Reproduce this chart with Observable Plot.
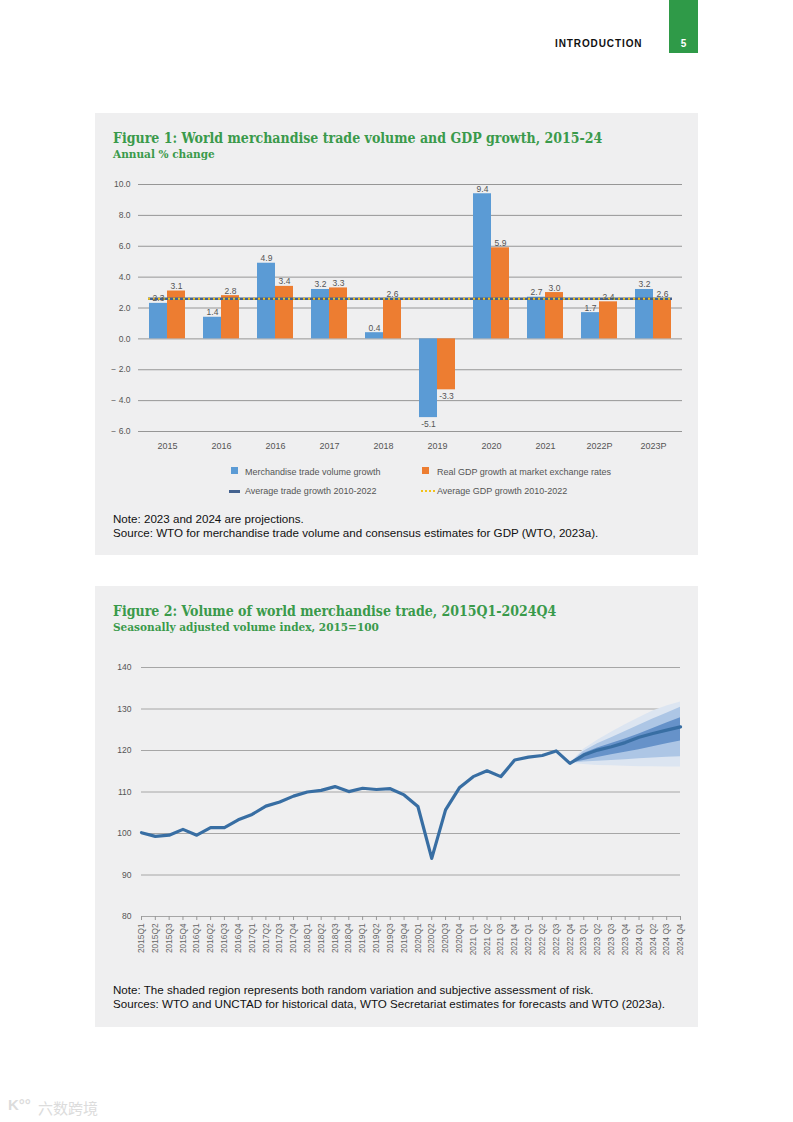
<!DOCTYPE html>
<html><head><meta charset="utf-8">
<script src="https://cdn.jsdelivr.net/npm/d3@7"></script>
<script src="https://cdn.jsdelivr.net/npm/@observablehq/plot@0.6"></script>
<style>
body{margin:0;width:793px;height:1122px;background:#fff;position:relative;font-family:"Liberation Sans",Arial,sans-serif;overflow:hidden}
.abs{position:absolute;white-space:nowrap}
.panel{position:absolute;left:95px;width:603px;background:#efeff0}
.title{font-family:"DejaVu Serif Condensed","DejaVu Serif",serif;font-weight:bold;color:#3a9a4b;font-size:14px;line-height:16px}
.sub{font-family:"DejaVu Serif Condensed","DejaVu Serif",serif;font-weight:bold;color:#3a9a4b;font-size:11.7px;line-height:12px}
.note{font-size:11.6px;line-height:14px;color:#111}
.leg{font-size:9px;color:#555;line-height:10px}
.sw{position:absolute;width:7px;height:7px}
</style></head>
<body>
<div class="abs" style="left:555px;top:38px;font-weight:bold;font-size:10px;letter-spacing:0.9px;color:#111">INTRODUCTION</div>
<div class="abs" style="left:669px;top:0;width:29px;height:53px;background:#2f9a48"></div>
<div class="abs" style="left:669px;top:38px;width:29px;text-align:center;font-weight:bold;font-size:10px;color:#fff">5</div>

<div class="panel" style="top:113px;height:442px"></div>
<div class="abs title" style="left:113px;top:130px">Figure 1: World merchandise trade volume and GDP growth, 2015-24</div>
<div class="abs sub" style="left:113px;top:148px">Annual % change</div>
<div id="c1" class="abs" style="left:95px;top:170px"></div>

<div class="sw" style="left:231px;top:467px;background:#5b9bd5"></div>
<div class="abs leg" style="left:245px;top:467px">Merchandise trade volume growth</div>
<div class="sw" style="left:422px;top:467px;background:#ed7d31"></div>
<div class="abs leg" style="left:437px;top:467px">Real GDP growth at market exchange rates</div>
<div class="abs" style="left:229px;top:490px;width:11px;height:3px;background:#44628f"></div>
<div class="abs leg" style="left:245px;top:486px">Average trade growth 2010-2022</div>
<div class="abs" style="left:421px;top:490px;width:14px;height:0;border-top:2px dotted #f2c21b"></div>
<div class="abs leg" style="left:437px;top:486px">Average GDP growth 2010-2022</div>

<div class="abs note" style="left:113px;top:512px">Note: 2023 and 2024 are projections.<br>Source: WTO for merchandise trade volume and consensus estimates for GDP (WTO, 2023a).</div>

<div class="panel" style="top:586px;height:441px"></div>
<div class="abs title" style="left:113px;top:603px">Figure 2: Volume of world merchandise trade, 2015Q1-2024Q4</div>
<div class="abs sub" style="left:113px;top:621px">Seasonally adjusted volume index, 2015=100</div>
<div id="c2" class="abs" style="left:95px;top:650px"></div>
<div class="abs note" style="left:113px;top:983px">Note: The shaded region represents both random variation and subjective assessment of risk.<br>Sources: WTO and UNCTAD for historical data, WTO Secretariat estimates for forecasts and WTO (2023a).</div>

<div class="abs" style="left:8px;top:1096px;font-size:15px;color:#dcdcdc;font-weight:bold">K°°</div>
<div class="abs" style="left:38px;top:1097px;font-size:15px;color:#dcdcdc;font-family:'Noto Sans CJK SC'">六数跨境</div>

<script>
// ---------- Figure 1 data ----------
const years = ["2015","2016","2016","2017","2018","2019","2020","2021","2022P","2023P"];
const tradeGrowth = [2.3,1.4,4.9,3.2,0.4,-5.1,9.4,2.7,1.7,3.2];
const gdpGrowth = [3.1,2.8,3.4,3.3,2.6,-3.3,5.9,3.0,2.4,2.6];
const avgTrade = [2.6];
const avgGdp = [2.6];
const yTicks1 = [-6,-4,-2,0,2,4,6,8,10];

// ---------- Figure 2 data ----------
const quarters = ["2015Q1","2015Q2","2015Q3","2015Q4","2016Q1","2016Q2","2016Q3","2016Q4",
"2017Q1","2017Q2","2017Q3","2017Q4","2018Q1","2018Q2","2018Q3","2018Q4",
"2019Q1","2019Q2","2019Q3","2019Q4","2020Q1","2020Q2","2020Q3","2020Q4",
"2021 Q1","2021 Q2","2021 Q3","2021 Q4","2022 Q1","2022 Q2","2022 Q3","2022 Q4",
"2023 Q1","2023 Q2","2023 Q3","2023 Q4","2024 Q1","2024 Q2","2024 Q3","2024 Q4"];
const volumeIndex = [100.2,99.3,99.6,101.0,99.6,101.4,101.4,103.3,
104.6,106.6,107.6,109.0,110.0,110.4,111.3,110.1,
110.9,110.6,110.8,109.3,106.5,94.0,105.7,111.0,
113.7,115.1,113.7,117.7,118.4,118.8,119.9,116.9,
118.9,120.1,120.9,121.9,123.2,124.1,124.9,125.7];
const fanQuarters = ["2022 Q4","2023 Q1","2023 Q2","2023 Q3","2023 Q4","2024 Q1","2024 Q2","2024 Q3","2024 Q4"];
const fanDarkLow  = [116.9,117.6,118.3,119.0,119.6,120.2,120.9,121.6,122.3];
const fanDarkHigh = [116.9,119.3,120.6,121.7,122.8,124.0,125.3,126.6,127.9];
const fanMidLow   = [116.9,117.2,117.4,117.6,117.8,118.0,118.2,118.4,118.5];
const fanMidHigh  = [116.9,119.8,121.6,123.1,124.6,126.1,127.6,129.0,130.4];
const fanLightLow = [116.9,116.6,116.4,116.3,116.2,116.1,116.1,116.0,116.0];
const fanLightHigh= [116.9,120.3,122.5,124.4,126.2,127.9,129.5,130.7,131.7];
const yTicks2 = [80,90,100,110,120,130,140];

// ---------- Chart 1 ----------
const fmt1 = d => d < 0 ? "\u2212 " + Math.abs(d).toFixed(1) : d.toFixed(1);
const idx = years.map((_, i) => i);
const bars = idx.map(i => ({i, trade: tradeGrowth[i], gdp: gdpGrowth[i]}));
const W1 = 603, mL1 = 43, mR1 = 16, pi = 0.336, po = 0.184;
const step = (W1 - mL1 - mR1) / (years.length - pi + 2 * po);
const bw = step * (1 - pi);
const lab = d => d.toFixed(1);
const txt = {fontSize: 8.5, fill: "#555"};

const c1 = Plot.plot({
  width: W1, height: 290, marginLeft: mL1, marginRight: mR1, marginTop: 14, marginBottom: 29,
  style: {background: "transparent", fontFamily: "Liberation Sans, Arial, sans-serif", fontSize: "8.5px", color: "#555"},
  x: {type: "band", domain: idx, paddingInner: pi, paddingOuter: po, label: null},
  y: {domain: [-6, 10], label: null},
  marks: [
    Plot.ruleY(yTicks1, {stroke: "#969696", strokeWidth: 1}),
    Plot.barY(bars, {x: "i", y: "trade", fill: "#5b9bd5", insetRight: bw / 2}),
    Plot.barY(bars, {x: "i", y: "gdp", fill: "#ed7d31", insetLeft: bw / 2}),
    Plot.ruleY(avgTrade, {stroke: "#44628f", strokeWidth: 2.5, insetLeft: 10, insetRight: 10}),
    Plot.ruleY(avgGdp, {stroke: "#f2c21b", strokeWidth: 2, strokeDasharray: "2,3", insetLeft: 10, insetRight: 10}),
    Plot.text(bars.filter(d => d.trade >= 0), {x: "i", y: "trade", text: d => lab(d.trade), dx: -bw / 4, dy: -2, lineAnchor: "bottom", ...txt}),
    Plot.text(bars.filter(d => d.trade < 0), {x: "i", y: "trade", text: d => lab(d.trade), dx: -bw / 4, dy: 3, lineAnchor: "top", ...txt}),
    Plot.text(bars.filter(d => d.gdp >= 0), {x: "i", y: "gdp", text: d => lab(d.gdp), dx: bw / 4, dy: -2, lineAnchor: "bottom", ...txt}),
    Plot.text(bars.filter(d => d.gdp < 0), {x: "i", y: "gdp", text: d => lab(d.gdp), dx: bw / 4, dy: 3, lineAnchor: "top", ...txt}),
    Plot.axisY({ticks: yTicks1, tickFormat: fmt1, tickSize: 0, tickPadding: 8, fontSize: 8.5, fill: "#555"}),
    Plot.axisX({tickFormat: i => years[i], tickSize: 0, tickPadding: 11, fontSize: 9, fill: "#555"})
  ]
});
document.getElementById("c1").appendChild(c1);

// ---------- Chart 2 ----------
const vol = quarters.map((q, i) => ({q, v: volumeIndex[i]}));
const fan = fanQuarters.map((q, i) => ({q, dl: fanDarkLow[i], dh: fanDarkHigh[i], ml: fanMidLow[i], mh: fanMidHigh[i], ll: fanLightLow[i], lh: fanLightHigh[i]}));

const c2 = Plot.plot({
  width: 603, height: 330, marginLeft: 46, marginRight: 18, marginTop: 17, marginBottom: 64,
  style: {background: "transparent", fontFamily: "Liberation Sans, Arial, sans-serif", fontSize: "8.5px", color: "#555"},
  x: {type: "point", domain: quarters, padding: 0, label: null},
  y: {domain: [80, 140], label: null},
  marks: [
    Plot.ruleY(yTicks2, {stroke: "#a6a6a6", strokeWidth: 1}),
    Plot.areaY(fan, {x: "q", y1: "ll", y2: "lh", fill: "#dce5f1"}),
    Plot.areaY(fan, {x: "q", y1: "ml", y2: "mh", fill: "#adc6e5"}),
    Plot.areaY(fan, {x: "q", y1: "dl", y2: "dh", fill: "#6692c9"}),
    Plot.line(vol, {x: "q", y: "v", stroke: "#386ea3", strokeWidth: 3.2, strokeLinejoin: "round"}),
    Plot.axisY({ticks: yTicks2, tickSize: 0, tickPadding: 10, fontSize: 8.5, fill: "#555"}),
    Plot.axisX({tickRotate: -90, tickSize: 4, tickPadding: 3, fontSize: 8.3, fill: "#666", stroke: "#999"})
  ]
});
document.getElementById("c2").appendChild(c2);
</script>
</body></html>
